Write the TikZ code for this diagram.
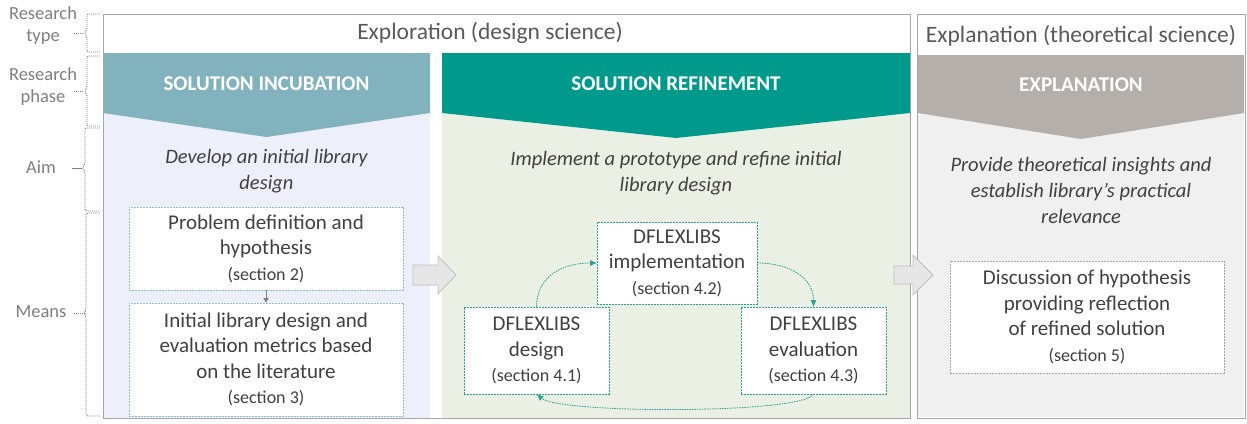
\documentclass[tikz,border=0pt]{standalone}
\usepackage{fontspec}
\setmainfont{Carlito}
\usetikzlibrary{arrows.meta}
\definecolor{incH}{HTML}{82B2BD}
\definecolor{incB}{HTML}{EDF0FB}
\definecolor{refH}{HTML}{009A8C}
\definecolor{refB}{HTML}{EBF0E5}
\definecolor{expH}{HTML}{B4AFAB}
\definecolor{expB}{HTML}{F0F0F0}
\definecolor{frameC}{HTML}{A6A6A6}
\definecolor{txtC}{HTML}{404040}
\definecolor{typeC}{HTML}{595959}
\definecolor{lblC}{HTML}{7F7F7F}
\definecolor{incLine}{HTML}{8EC0CB}
\definecolor{tealLine}{HTML}{2E9E92}
\definecolor{arrFill}{HTML}{E6E6E6}
\definecolor{arrLine}{HTML}{BFBFBF}
\definecolor{grayLine}{HTML}{A6A6A6}
\newcommand\mysec{\fontsize{18}{24}\selectfont}
\begin{document}
\begin{tikzpicture}[x=1pt,y=-1pt,
  every node/.style={inner sep=0pt,outer sep=0pt},
  bodytext/.style={font=\fontsize{21}{25.5}\selectfont,text=txtC,align=center},
  incbox/.style={bodytext,draw=incLine,fill=white,line width=0.8pt,dash pattern=on 2pt off 1pt},
  tealbox/.style={bodytext,draw=tealLine,fill=white,line width=0.8pt,dash pattern=on 2pt off 1pt},
  graybox/.style={bodytext,draw=grayLine,fill=white,line width=0.8pt,dash pattern=on 2pt off 1pt},
  aimtext/.style={font=\fontsize{20.5}{26}\selectfont\itshape,text=txtC,align=center},
  hdr/.style={font=\fontsize{21}{25}\selectfont\bfseries,text=white},
  typetext/.style={font=\fontsize{23.5}{28}\selectfont,text=typeC},
  lbltext/.style={font=\fontsize{18.5}{22}\selectfont,text=lblC,align=center},
  brc/.style={draw=lblC,line width=0.9pt,dash pattern=on 1pt off 1pt,rounded corners=2pt},
  cyc/.style={draw=tealLine,line width=0.8pt,dash pattern=on 1.5pt off 1pt,-{Latex[length=7pt,width=6pt]}},
  blockarrow/.style={fill=arrFill,draw=arrLine,line width=0.8pt}
]
\useasboundingbox (0,0) rectangle (1247,423);
% backgrounds
\fill[white] (0,0) rectangle (1247,423);
\fill[incB] (103,53) rectangle (430,418);
\fill[refB] (442,53) rectangle (910,418);
\fill[expB] (918,55) rectangle (1244,417);
% headers
\fill[incH] (103,53) -- (430,53) -- (430,113) -- (266.5,137) -- (103,113) -- cycle;
\fill[refH] (442,53) -- (910,53) -- (910,113) -- (676,138) -- (442,113) -- cycle;
\fill[expH] (918,55) -- (1244,55) -- (1244,113) -- (1081,139) -- (918,113) -- cycle;
% frames
\draw[frameC,line width=0.8pt] (103,14) rectangle (910,418);
\draw[frameC,line width=0.8pt] (917,14) rectangle (1245,418);
% type texts
\node[typetext] (t1) at (490,33) {Exploration (design science)};
\node[typetext] (t2) at (1081,36) {Explanation (theoretical science)};
% phase headers
\node[hdr] (h1) at (266.5,84) {SOLUTION INCUBATION};
\node[hdr] (h2) at (676,84) {SOLUTION REFINEMENT};
\node[hdr] (h3) at (1081,85) {EXPLANATION};
% aims
\node[aimtext] (a1) at (266.5,171) {Develop an initial library\\design};
\node[aimtext] (a2) at (676,173) {Implement a prototype and refine initial\\library design};
\node[aimtext] (a3) at (1081,190) {Provide theoretical insights and\\establish library’s practical\\relevance};
% left labels
\node[lbltext] (l1) at (43,26) {Research\\type};
\node[lbltext] (l2) at (43,87) {Research\\phase};
\node[lbltext] (l3) at (41,167) {Aim};
\node[lbltext] (l4) at (41,312) {Means};
\coordinate (c1) at (74,33); \coordinate (b1) at (84,33);
\coordinate (c2) at (74,91); \coordinate (b2) at (84,91);
\coordinate (c3) at (72,168); \coordinate (b3) at (82,168);
\coordinate (c4) at (74,313); \coordinate (b4) at (84,313);
\draw[brc] (100,14) -- (87,14) -- (87,30) -- (b1) -- (87,36) -- (87,52) -- (100,52);
\draw[brc] (100,56) -- (87,56) -- (87,88) -- (b2) -- (87,94) -- (87,126) -- (100,126);
\draw[brc] (100,128) -- (85,128) -- (85,165) -- (b3) -- (85,171) -- (85,211) -- (100,211);
\draw[brc] (100,213) -- (86,213) -- (86,310) -- (b4) -- (86,316) -- (86,416) -- (100,416);
\draw[brc] (c1) -- (b1);
\draw[brc] (c2) -- (b2);
\draw[draw=lblC,line width=0.9pt] (c3) -- (b3);
\draw[brc] (c4) -- (b4);
% incubation boxes
\node[incbox,minimum width=274pt,minimum height=83pt] (p1) at (266,248.5) {Problem definition and\\hypothesis\\{\mysec (section 2)}};
\node[incbox,minimum width=274pt,minimum height=113pt] (p2) at (266,359.5) {Initial library design and\\evaluation metrics based\\on the literature\\{\mysec (section 3)}};
\draw[draw=lblC,line width=0.8pt,-{Latex[length=5pt,width=6pt]}] (p1.south) -- (p2.north);
% refinement boxes
\node[tealbox,minimum width=160pt,minimum height=82pt] (imp) at (677,263) {DFLEXLIBS\\implementation\\{\mysec (section 4.2)}};
\node[tealbox,minimum width=145pt,minimum height=87pt] (des) at (536.5,350.5) {DFLEXLIBS\\design\\{\mysec (section 4.1)}};
\node[tealbox,minimum width=145pt,minimum height=87pt] (eva) at (813.5,350.5) {DFLEXLIBS\\evaluation\\{\mysec (section 4.3)}};
\draw[cyc] (des.north) .. controls (536.5,278) and (560,263) .. (imp.west);
\draw[cyc] (imp.east) .. controls (790,263) and (813.5,278) .. (eva.north);
\draw[cyc] (eva.south) .. controls (805,414) and (560,414) .. (des.south);
% explanation box
\node[graybox,minimum width=274pt,minimum height=112pt] (dis) at (1087,317) {Discussion of hypothesis\\providing reflection\\of refined solution\\{\mysec (section 5)}};
% block arrows
\draw[blockarrow] (413,265) -- (438,265) -- (438,256) -- (456,275) -- (438,294) -- (438,285) -- (413,285) -- cycle;
\draw[blockarrow] (894,266) -- (913,266) -- (913,255) -- (933,275) -- (913,295) -- (913,284) -- (894,284) -- cycle;
\end{tikzpicture}
\end{document}
